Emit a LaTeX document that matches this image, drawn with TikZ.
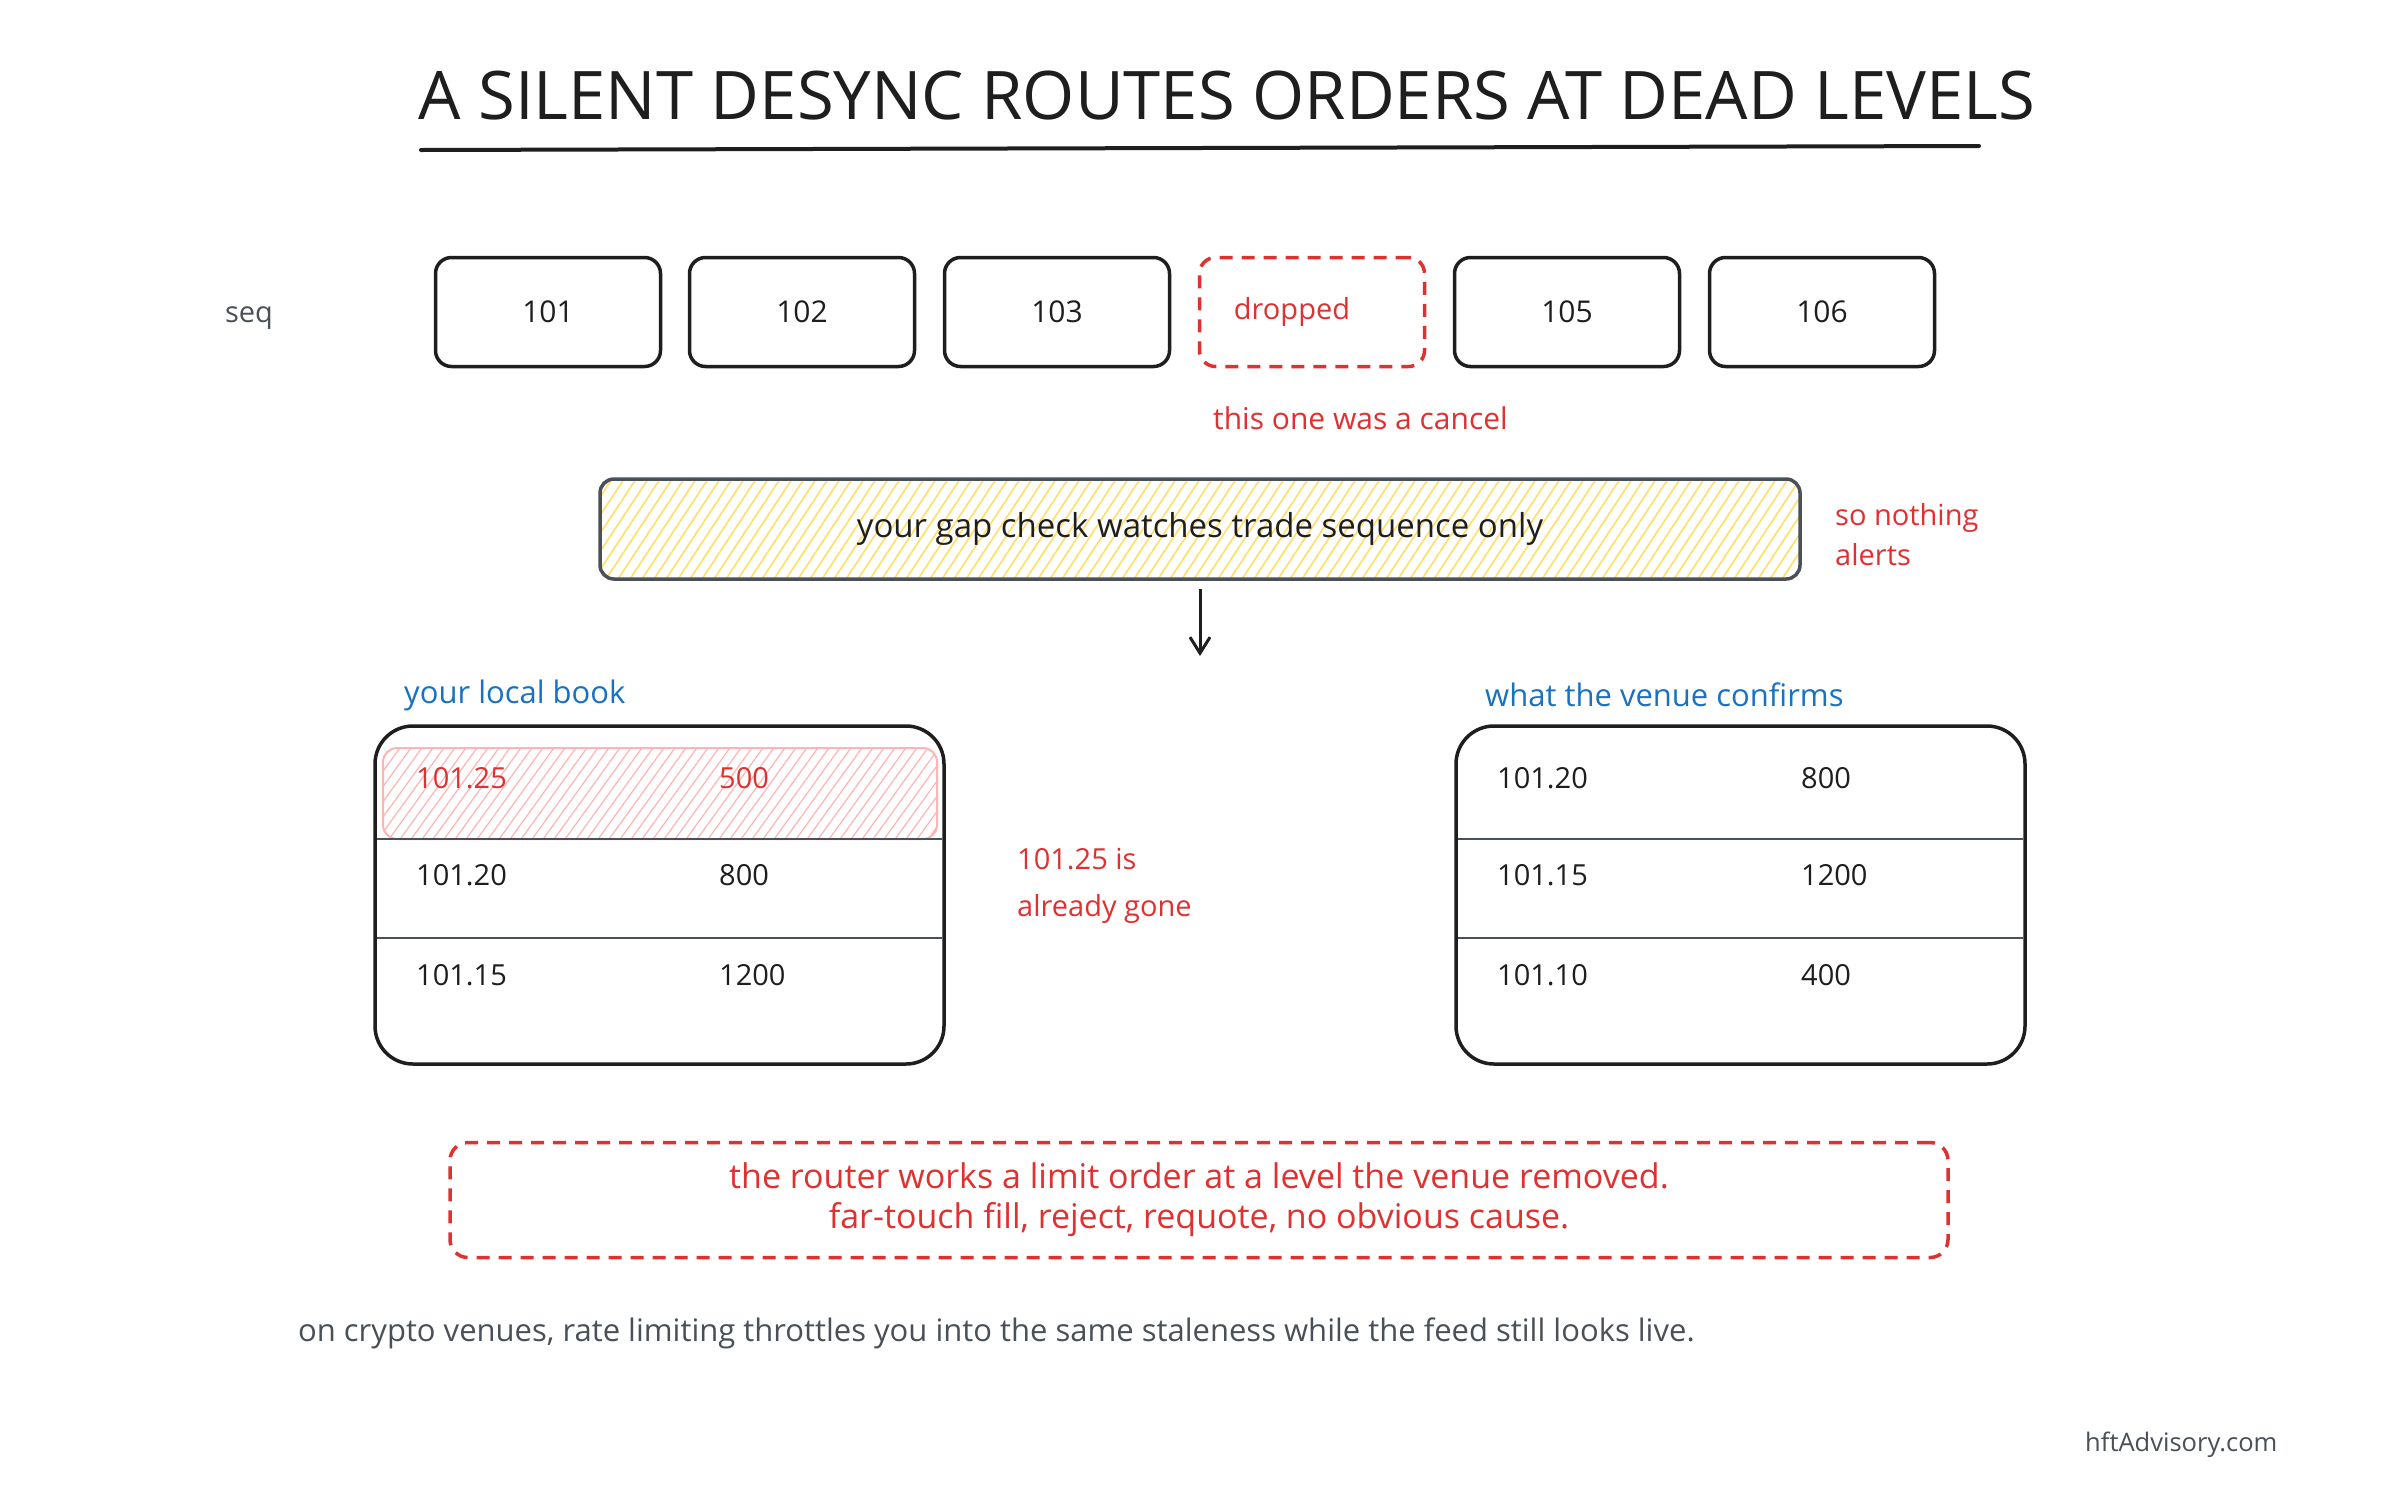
\documentclass[tikz,border=0pt]{standalone}
\usepackage{fontspec}
\setmainfont{Open Sans}
\usetikzlibrary{arrows.meta}
\definecolor{ink}{HTML}{1E1E1E}
\definecolor{exred}{HTML}{E03131}
\definecolor{exblue}{HTML}{1971C2}
\definecolor{exgray}{HTML}{495057}
\definecolor{hatchy}{HTML}{FFE066}
\definecolor{hatchr}{HTML}{FFB3B3}
\tikzset{
  seqbox/.style={draw=ink, line width=3.5pt, rounded corners=16pt, minimum width=225pt, minimum height=109pt, inner sep=0pt, text=ink, font=\fontsize{30}{36}\selectfont},
  dropbox/.style={seqbox, draw=exred, dash pattern=on 13pt off 9pt, text=exred},
  body/.style={font=\fontsize{29}{40}\selectfont, inner sep=0pt},
  cell/.style={body, anchor=west, text=ink},
  redcell/.style={cell, text=exred},
  tablebox/.style={draw=ink, line width=3.5pt, rounded corners=38pt},
  rowline/.style={draw=exgray, line width=2.5pt},
  arr/.style={-{Straight Barb[length=16pt,width=20pt]}, line width=3pt, draw=ink}
}
\begin{document}
\begin{tikzpicture}[x=1pt,y=-1pt]
\useasboundingbox[fill=white] (0,0) rectangle (2400,1500);

% title
\node[font=\fontsize{67}{74}\selectfont, text=ink, inner sep=0pt] (title) at (1227,96) {A SILENT DESYNC ROUTES ORDERS AT DEAD LEVELS};
\coordinate (ulA) at (421,150);
\coordinate (ulB) at (1979,146);
\draw[line width=4pt, ink, line cap=round] (ulA) -- (ulB);

% sequence row
\node[body, text=exgray] (seqlbl) at (249,318) {seq};
\node[seqbox] (s101) at (548,312) {101};
\node[seqbox] (s102) at (802,312) {102};
\node[seqbox] (s103) at (1057,312) {103};
\node[dropbox] (sdrop) at (1312,312) {};
\node[body, text=exred] (droptxt) at (1292,312) {dropped};
\node[seqbox] (s105) at (1567,312) {105};
\node[seqbox] (s106) at (1822,312) {106};
\node[body, text=exred, anchor=west, font=\fontsize{30}{40}\selectfont] (cancel) at (1213,418) {this one was a cancel};

% gap check box
\begin{scope}
  \clip[rounded corners=14pt] (600,479) rectangle (1800,579);
  \foreach \i in {0,12,...,1300} {
    \draw[hatchy, line width=1.6pt] (\i+520,582) -- (\i+590,476);
  }
\end{scope}
\node[draw=exgray, line width=3.5pt, rounded corners=14pt, minimum width=1200pt, minimum height=100pt, body, font=\fontsize{33}{40}\selectfont, text=ink] (gap) at (1200,529) {your gap check watches trade sequence only};
\node[body, text=exred, anchor=north west, align=left] (nothing) at (1835,503) {so nothing\\alerts};
\coordinate (arrowend) at (1200,656);
\draw[arr] ([yshift=-8pt]gap.south) -- (arrowend);

% left table
\node[body, font=\fontsize{31}{40}\selectfont, text=exblue, anchor=west] (localttl) at (404,695) {your local book};
\begin{scope}
  \clip[rounded corners=14pt] (383,748) rectangle (937,839);
  \foreach \i in {0,11,...,620} {
    \draw[hatchr, line width=1.2pt] (\i+310,842) -- (\i+380,745);
  }
\end{scope}
\draw[hatchr, line width=2pt, rounded corners=14pt] (383,748) rectangle (937,839);
\draw[tablebox] (375,726) rectangle (944,1064);
\draw[rowline] (377,839) -- (942,839);
\draw[rowline] (377,938) -- (942,938);
\node[redcell] (l1p) at (416,778) {101.25};
\node[redcell] (l1q) at (719,778) {500};
\node[cell] (l2p) at (416,875) {101.20};
\node[cell] (l2q) at (719,875) {800};
\node[cell] (l3p) at (416,975) {101.15};
\node[cell] (l3q) at (719,975) {1200};
\node[body, text=exred, anchor=north west, align=left, font=\fontsize{29}{47}\selectfont] (gone) at (1017,848) {101.25 is\\already gone};

% right table
\node[body, font=\fontsize{31}{40}\selectfont, text=exblue, anchor=west] (venuettl) at (1485,695) {what the venue confirms};
\draw[tablebox] (1456,726) rectangle (2025,1064);
\draw[rowline] (1458,839) -- (2023,839);
\draw[rowline] (1458,938) -- (2023,938);
\node[cell] (r1p) at (1497,778) {101.20};
\node[cell] (r1q) at (1801,778) {800};
\node[cell] (r2p) at (1497,875) {101.15};
\node[cell] (r2q) at (1801,875) {1200};
\node[cell] (r3p) at (1497,975) {101.10};
\node[cell] (r3q) at (1801,975) {400};

% consequence note
\node[draw=exred, line width=3.5pt, dash pattern=on 13pt off 9pt, rounded corners=18pt, minimum width=1498pt, minimum height=115pt, body, font=\fontsize{34}{40}\selectfont, text=exred, align=center] (note) at (1199,1200) {the router works a limit order at a level the venue removed.\\far-touch fill, reject, requote, no obvious cause.};

% footer
\node[body, font=\fontsize{31}{40}\selectfont, text=exgray, anchor=west] (footer) at (298,1333) {on crypto venues, rate limiting throttles you into the same staleness while the feed still looks live.};
\node[font=\fontsize{25.5}{30}\selectfont, text=exgray, anchor=west, inner sep=0pt] (brand) at (2085,1445) {hftAdvisory.com};
\end{tikzpicture}
\end{document}
